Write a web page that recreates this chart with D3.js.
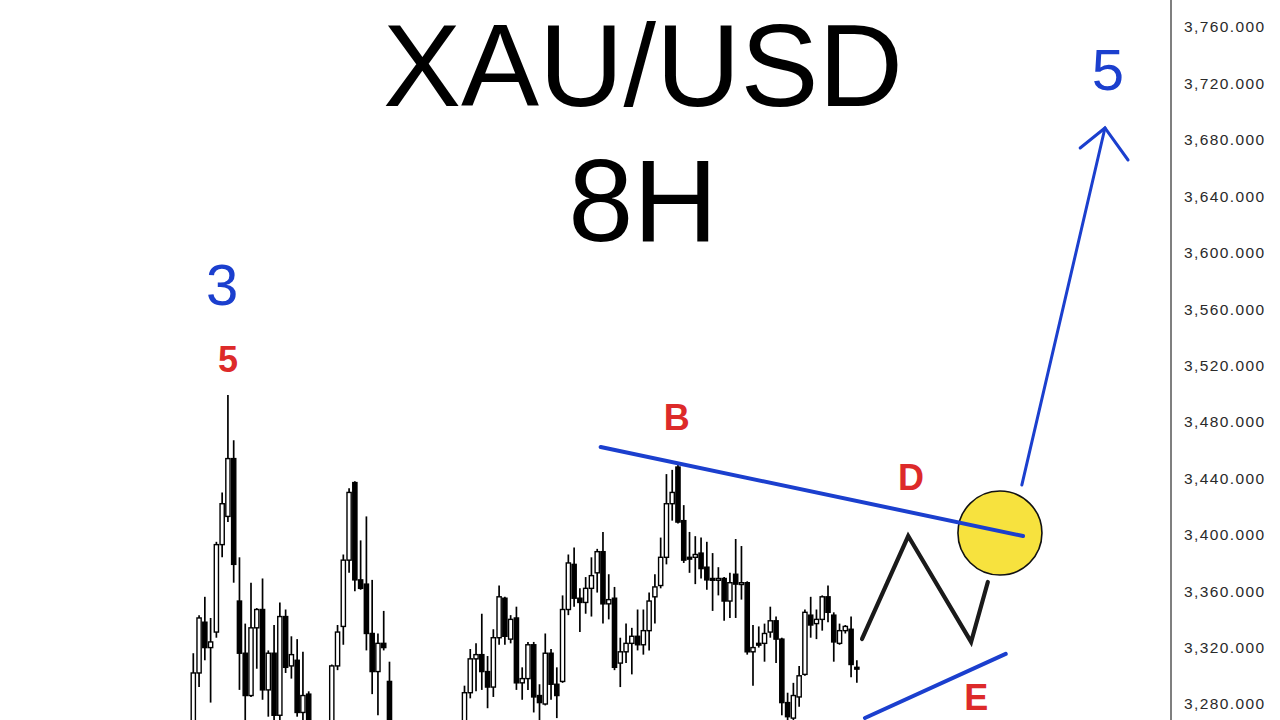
<!DOCTYPE html>
<html><head><meta charset="utf-8">
<script src="https://cdn.jsdelivr.net/npm/d3@7"></script>
<style>
html,body{margin:0;padding:0;background:#fff;overflow:hidden}
svg{display:block}
</style></head>
<body>
<svg id="chart" width="1280" height="720"></svg>
<script>
// ---- data (8H candles, index order) ----
const opens  = [3262,3302,3338,3320,3331,3393,3413,3454,3353,3316,3286,3334,3347,3290,3316,3272,3342,3307,3311,3274,3287,3260,3245,3230,3255,3307,3335,3382,3437,3368,3365,3330,3303,3323,3296,3260,3240,3225,3210,3195,3215,3205,3225,3240,3228,3245,3238,3255,3288,3312,3315,3303,3292,3327,3355,3326,3341,3295,3298,3322,3286,3280,3316,3294,3296,3347,3379,3355,3352,3362,3373,3388,3351,3355,3309,3317,3323,3328,3322,3332,3356,3364,3384,3422,3448,3410,3384,3384,3387,3377,3369,3368,3369,3353,3372,3365,3366,3317,3323,3323,3331,3339,3326,3281,3270,3285,3301,3343,3337,3340,3356,3343,3323,3332,3333,3306];
const highs  = [3316,3343,3356,3341,3395,3430,3499,3467,3384,3337,3366,3348,3369,3318,3336,3352,3347,3328,3326,3317,3289,3264,3258,3262,3308,3336,3386,3433,3438,3396,3413,3368,3330,3346,3310,3262,3250,3235,3222,3225,3230,3240,3255,3250,3258,3260,3262,3293,3319,3323,3344,3314,3333,3364,3356,3343,3349,3306,3324,3324,3294,3330,3319,3306,3357,3386,3391,3362,3370,3384,3390,3402,3372,3363,3327,3337,3334,3347,3347,3359,3372,3398,3443,3446,3451,3421,3402,3399,3398,3395,3387,3377,3370,3373,3397,3392,3367,3336,3335,3337,3349,3342,3327,3288,3295,3307,3347,3356,3347,3357,3364,3345,3337,3336,3342,3311];
const lows   = [3255,3292,3311,3281,3327,3384,3409,3366,3290,3262,3285,3305,3283,3271,3265,3268,3302,3298,3271,3268,3255,3235,3220,3225,3250,3304,3322,3373,3360,3361,3318,3287,3272,3318,3250,3232,3215,3200,3185,3188,3198,3200,3218,3220,3222,3230,3232,3250,3284,3289,3290,3277,3285,3322,3322,3323,3290,3283,3290,3274,3266,3279,3283,3270,3295,3343,3349,3331,3344,3342,3359,3337,3340,3304,3292,3309,3301,3318,3315,3318,3337,3362,3379,3410,3408,3380,3373,3365,3369,3361,3346,3357,3339,3341,3341,3354,3315,3293,3320,3310,3327,3309,3272,3266,3267,3278,3300,3327,3326,3332,3338,3310,3322,3330,3299,3295];
const closes = [3302,3341,3320,3324,3393,3422,3454,3379,3316,3286,3334,3347,3290,3316,3272,3342,3306,3315,3274,3286,3262,3245,3230,3255,3307,3331,3382,3430,3368,3362,3330,3303,3323,3320,3260,3240,3225,3210,3195,3215,3205,3225,3240,3228,3245,3238,3255,3288,3312,3315,3303,3292,3327,3356,3328,3340,3295,3298,3322,3285,3281,3316,3294,3286,3347,3380,3355,3352,3362,3371,3388,3351,3354,3306,3317,3323,3328,3322,3332,3353,3363,3384,3422,3430,3409,3382,3383,3386,3376,3368,3368,3369,3353,3366,3365,3366,3317,3320,3322,3330,3339,3326,3281,3271,3286,3300,3345,3336,3340,3356,3345,3324,3332,3335,3308,3305];

// price axis ticks
const priceTicks = [3280,3320,3360,3400,3440,3480,3520,3560,3600,3640,3680,3720,3760];

// title lines
const titleLines = ["XAU/USD", "8H"];

// wave annotations: [bar index, price]
const trendB  = [[70.6,3462.2],[143.8,3399.1]];
const trendE  = [[116.4,3270.1],[140.8,3315.5]];
const zigzag  = [[115.9,3326.1],[123.9,3399.1],[134.8,3324.0],[137.7,3366.5]];
const target  = [139.8,3401.2];
const arrowLine = [[143.6,3435.3],[158.0,3688.4]];
const arrowHead = [[153.7,3674.2],[158.0,3688.4],[162.0,3665.7]];
const waveLabels = [
  {text:"3", i:5.0,  p:3562.9, color:"blue", size:58, weight:"normal"},
  {text:"5", i:6.0,  p:3515.4, color:"red",  size:36, weight:"bold"},
  {text:"B", i:83.8, p:3474.3, color:"red",  size:36, weight:"bold"},
  {text:"D", i:124.4,p:3431.7, color:"red",  size:36, weight:"bold"},
  {text:"E", i:135.7,p:3275.8, color:"red",  size:36, weight:"bold"},
  {text:"5", i:158.5,p:3715.3, color:"blue", size:58, weight:"normal"}
];

// ---- drawing ----
const BLUE = "#1b3fce", RED = "#dd2a2a";
const svg = d3.select("#chart");
const n = opens.length;
const x = d3.scaleLinear().domain([0, n-1]).range([193.3, 856.85]);
const y = d3.scaleLinear().domain([3280, 3760]).range([704, 27]);
const font = "'Liberation Sans', Arial, Helvetica, sans-serif";

svg.append("rect").attr("width",1280).attr("height",720).attr("fill","#fff");

// title
svg.append("g").selectAll("text").data(titleLines).join("text")
  .attr("x", 643).attr("y", (d,k)=> 106 + k*135)
  .attr("text-anchor","middle")
  .attr("font-family", font).attr("font-size", 117)
  .attr("fill","#000").text(d=>d);

// candles
const candles = d3.range(n).map(k=>({i:k,o:opens[k],h:highs[k],l:lows[k],c:closes[k]}));
const cg = svg.append("g");
const bw = 4.2;
cg.selectAll("line.wick").data(candles).join("line")
  .attr("class","wick")
  .attr("x1", d=>x(d.i)).attr("x2", d=>x(d.i))
  .attr("y1", d=>y(d.h)).attr("y2", d=>y(d.l))
  .attr("stroke","#000").attr("stroke-width",1.7);
cg.selectAll("rect.body").data(candles).join("rect")
  .attr("class","body")
  .attr("x", d=>x(d.i)-bw/2)
  .attr("width", bw)
  .attr("y", d=>y(Math.max(d.o,d.c)))
  .attr("height", d=>Math.max(1.8, Math.abs(y(d.o)-y(d.c))))
  .attr("fill", d=> d.c>=d.o ? "#fff" : "#000")
  .attr("stroke","#000").attr("stroke-width",1.4);

// axis
const axisX = 1171;
svg.append("line").attr("x1",axisX).attr("x2",axisX).attr("y1",0).attr("y2",720)
  .attr("stroke","#555").attr("stroke-width",1.5);
const axis = d3.axisRight(y).tickValues(priceTicks).tickSize(0).tickPadding(13)
  .tickFormat(d3.format(",.3f"));
const ag = svg.append("g").attr("transform",`translate(${axisX},0)`).call(axis);
ag.select(".domain").remove();
ag.selectAll("text").attr("font-family", font).attr("font-size",15.5)
  .attr("letter-spacing","1.4px").attr("fill","#2a2a2a");

const line = d3.line().x(d=>x(d[0])).y(d=>y(d[1]));

// black zigzag
svg.append("path").attr("d", line(zigzag)).attr("fill","none")
  .attr("stroke","#1a1a1a").attr("stroke-width",4.2)
  .attr("stroke-linecap","round").attr("stroke-linejoin","miter");

// yellow circle
svg.append("circle").attr("cx", x(target[0])).attr("cy", y(target[1])).attr("r", 42)
  .attr("fill","#f7e23e").attr("stroke","#111").attr("stroke-width",1.6);

// trend lines
[trendB, trendE].forEach(t=>{
  svg.append("path").attr("d", line(t)).attr("fill","none")
    .attr("stroke",BLUE).attr("stroke-width",4).attr("stroke-linecap","round");
});

// arrow
svg.append("path").attr("d", line(arrowLine)).attr("fill","none")
  .attr("stroke",BLUE).attr("stroke-width",3).attr("stroke-linecap","round");
svg.append("path").attr("d", line(arrowHead)).attr("fill","none")
  .attr("stroke",BLUE).attr("stroke-width",3).attr("stroke-linecap","round").attr("stroke-linejoin","miter");

// wave labels
svg.append("g").selectAll("text").data(waveLabels).join("text")
  .attr("x", d=>x(d.i)).attr("y", d=>y(d.p))
  .attr("text-anchor","middle")
  .attr("font-family", font).attr("font-size", d=>d.size).attr("font-weight", d=>d.weight)
  .attr("fill", d=> d.color==="blue" ? BLUE : RED)
  .text(d=>d.text);
</script>
</body></html>
